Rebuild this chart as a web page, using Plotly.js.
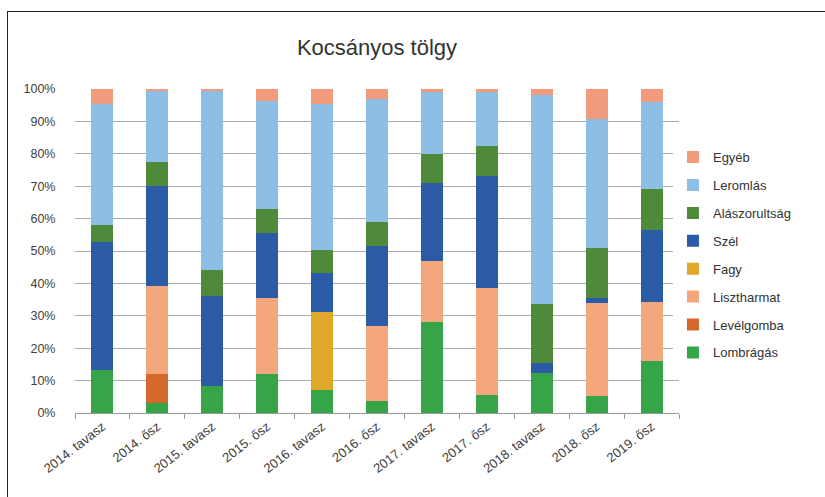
<!DOCTYPE html>
<html><head><meta charset="utf-8">
<script src="https://cdn.plot.ly/plotly-3.0.1.min.js"></script>
<style>
html,body{margin:0;padding:0;background:#fff;overflow:hidden}
#frame{position:absolute;left:7px;top:11px;width:900px;height:600px;border:1.5px solid #222;pointer-events:none;z-index:5}
#chart{width:825px;height:497px}
</style></head><body>
<div id="frame"></div>
<div id="chart"></div>
<script>
const categories = ["2014. tavasz","2014. ősz","2015. tavasz","2015. ősz","2016. tavasz","2016. ősz","2017. tavasz","2017. ősz","2018. tavasz","2018. ősz","2019. ősz"];
const lombragas     = [13.2, 3.1, 8.4, 12.1, 7.2, 3.8, 28.1, 5.7, 12.3, 5.1, 16.1];
const levelgomba    = [0, 9.0, 0, 0, 0, 0, 0, 0, 0, 0, 0];
const lisztharmat   = [0, 27.0, 0, 23.3, 0, 23.1, 18.9, 32.8, 0, 28.8, 18.3];
const fagy          = [0, 0, 0, 0, 24.1, 0, 0, 0, 0, 0, 0];
const szel          = [39.5, 31.0, 27.6, 20.1, 11.9, 24.5, 24.1, 34.5, 3.1, 1.5, 22.1];
const alaszorultsag = [5.4, 7.5, 8.2, 7.4, 7.2, 7.4, 8.8, 9.4, 18.3, 15.5, 12.6];
const leromlas      = [37.2, 21.9, 55.3, 33.5, 44.9, 38.0, 19.1, 16.6, 64.5, 39.7, 26.8];
const egyeb         = [4.7, 0.5, 0.5, 3.6, 4.7, 3.2, 1.0, 1.0, 1.8, 9.4, 4.1];
const seriesNames = ["Lombrágás","Levélgomba","Lisztharmat","Fagy","Szél","Alászorultság","Leromlás","Egyéb"];
const seriesValues = [lombragas, levelgomba, lisztharmat, fagy, szel, alaszorultsag, leromlas, egyeb];
const seriesColors = ["#36a548","#d5692d","#f4a67c","#e0a82b","#2b5ba6","#4f8a3b","#8dbfe6","#f19a7c"];

const traces = seriesNames.map((n,i)=>({
  type:'bar', name:n, x:categories, y:seriesValues[i].map(v=>v/100),
  marker:{color:seriesColors[i]}, legendgroup:n, legendrank:1000-i, hoverinfo:'name+y'
}));

const layout = {
  width:825, height:497,
  margin:{l:75, r:146, t:89, b:84},
  paper_bgcolor:'#fff', plot_bgcolor:'#fff',
  barmode:'stack', bargap:0.6,
  font:{family:'Liberation Sans, Arial, sans-serif', color:'#404040'},
  title:{text:'Kocsányos tölgy', font:{size:22, color:'#333'}, x:0.5, xref:'paper', xanchor:'center',
    y:1-47/497, yref:'container', yanchor:'middle'},
  xaxis:{type:'category', tickangle:-38, tickfont:{size:13, color:'#404040'},
    showline:true, linecolor:'#999', linewidth:1, ticks:'outside', tickson:'boundaries',
    ticklen:5, tickcolor:'#999', showgrid:false},
  yaxis:{range:[0,1], tickformat:'.0%', dtick:0.1, tickfont:{size:12.5, color:'#404040'},
    gridcolor:'#aaa', gridwidth:1, zeroline:false, showline:false, ticks:'outside', ticklen:16,
    tickcolor:'rgba(0,0,0,0)'},
  legend:{x:0.99, xanchor:'left', y:0.836, yanchor:'top', traceorder:'grouped',
    tracegroupgap:8, font:{size:13, color:'#333'}, itemwidth:30},
  showlegend:true
};
Plotly.newPlot('chart', traces, layout, {staticPlot:true});
</script></body></html>
